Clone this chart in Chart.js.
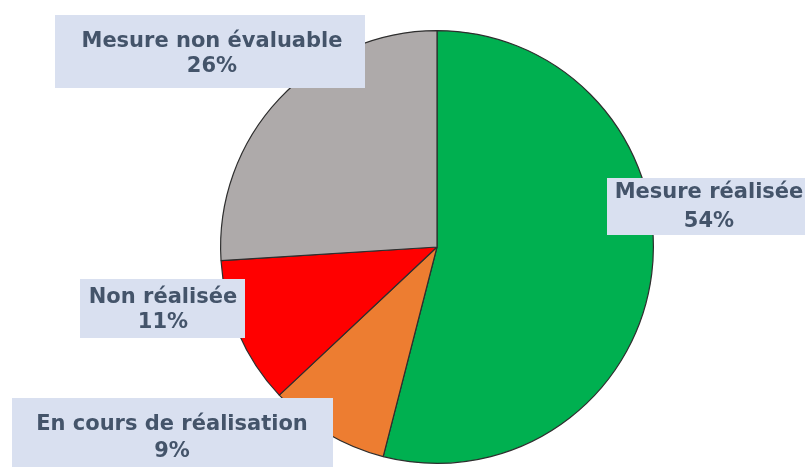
<!DOCTYPE html>
<html>
<head>
<meta charset="utf-8">
<script src="https://cdn.jsdelivr.net/npm/chart.js@4"></script>
<style>
  html, body { margin: 0; padding: 0; background: #ffffff; }
  #wrap { width: 805px; height: 467px; }
</style>
</head>
<body>
<div id="wrap"><canvas id="c" width="805" height="467"></canvas></div>
<script>
const categories = ["Mesure réalisée", "En cours de réalisation", "Non réalisée", "Mesure non évaluable"];
const values = [54, 9, 11, 26];
const percentLabels = ["54%", "9%", "11%", "26%"];
const colors = ["#00b050", "#ed7d31", "#ff0000", "#aeaaaa"];

// label box layout (pixels), one per category
const boxLayout = [
  { x: 607, y: 178, w: 200, h: 57, cx: 709, l1: 193, l2: 222 },
  { x: 12,  y: 398, w: 321, h: 70, cx: 172, l1: 425, l2: 452 },
  { x: 80,  y: 279, w: 165, h: 59, cx: 163, l1: 298, l2: 323 },
  { x: 55,  y: 15,  w: 310, h: 73, cx: 212, l1: 42,  l2: 67 }
];

const labelPlugin = {
  id: 'boxLabels',
  afterDatasetsDraw(chart) {
    const ctx = chart.ctx;
    ctx.save();
    ctx.font = 'bold 21px "DejaVu Sans", Verdana, sans-serif';
    ctx.textAlign = 'center';
    ctx.textBaseline = 'middle';
    categories.forEach((name, i) => {
      const b = boxLayout[i];
      ctx.fillStyle = '#d9e0f0';
      ctx.fillRect(b.x, b.y, b.w, b.h);
      ctx.fillStyle = '#44546a';
      ctx.fillText(name, b.cx, b.l1);
      ctx.fillText(percentLabels[i], b.cx, b.l2);
    });
    ctx.restore();
  }
};

new Chart(document.getElementById('c'), {
  type: 'pie',
  data: {
    labels: categories,
    datasets: [{
      data: values,
      backgroundColor: colors,
      borderColor: '#2e2e2e',
      borderWidth: 1.2
    }]
  },
  options: {
    responsive: false,
    animation: false,
    layout: { padding: { left: 220, right: 151, top: 30, bottom: 3 } },
    plugins: {
      legend: { display: false },
      tooltip: { enabled: false }
    }
  },
  plugins: [labelPlugin]
});
</script>
</body>
</html>
